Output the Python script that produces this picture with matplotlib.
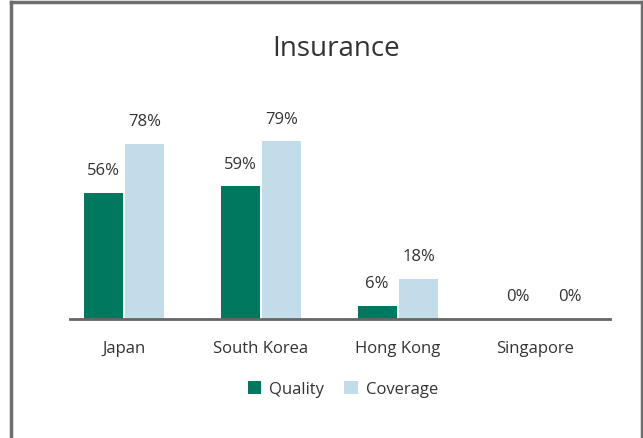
import matplotlib
matplotlib.use("Agg")
import matplotlib.pyplot as plt
import numpy as np
from matplotlib.lines import Line2D

plt.rcParams['font.family'] = ['Open Sans', 'DejaVu Sans']

categories = ["Japan", "South Korea", "Hong Kong", "Singapore"]
quality = [56, 59, 6, 0]
coverage = [78, 79, 18, 0]
series_names = ["Quality", "Coverage"]
colors = ["#00775f", "#c3dcea"]

W, H = 643, 439
fig = plt.figure(figsize=(W / 100, H / 100), dpi=100)

# axes placed in pixel terms: baseline at y=320, x from 70 to 610
ax = fig.add_axes([70 / W, (H - 320) / H, 540 / W, 220 / H])

x = np.arange(len(categories))
w = 0.285
gap = 0.01
b1 = ax.bar(x - w / 2 - gap, quality, w, color=colors[0], label=series_names[0])
b2 = ax.bar(x + w / 2 + gap, coverage, w, color=colors[1], label=series_names[1])

# zero-height labels sit a bit wider apart in the original
for bars, vals, shift in ((b1, quality, 3), (b2, coverage, 10)):
    for r, v in zip(bars, vals):
        dx = shift if v == 0 else 0
        ax.annotate(f"{v}%", (r.get_x() + r.get_width() / 2, v),
                    xytext=(dx, 10.5), textcoords="offset points",
                    ha="center", va="bottom", fontsize=12, color="#333333")

ax.set_xlim(-0.394, 3.547)
ax.set_ylim(0, 97.8)
ax.set_yticks([])
ax.set_xticks(x)
ax.set_xticklabels(categories, fontsize=12, color="#333333")
ax.tick_params(axis="x", length=0, pad=15)
for s in ["top", "right", "left"]:
    ax.spines[s].set_visible(False)
ax.spines["bottom"].set_color("#666666")
ax.spines["bottom"].set_linewidth(2)

fig.text(336 / W, 1 - 49 / H, "Insurance", ha="center", va="center",
         fontsize=20, color="#333333")

fig.legend(loc="center", bbox_to_anchor=(343 / W, 1 - 390 / H), ncol=2,
           frameon=False, fontsize=12, handlelength=0.8, handleheight=0.8,
           columnspacing=1.2, handletextpad=0.5, labelcolor="#333333")

# outer frame (open at the bottom)
frame_kw = dict(color="#6e6e6e", linewidth=2.5, transform=fig.transFigure)
fig.add_artist(Line2D([11 / W, 11 / W], [0, 1 - 3 / H], **frame_kw))
fig.add_artist(Line2D([11 / W, 641.5 / W], [1 - 3 / H, 1 - 3 / H], **frame_kw))
fig.add_artist(Line2D([641.5 / W, 641.5 / W], [0, 1 - 3 / H], **frame_kw))

fig.savefig("out.png", dpi=100)
